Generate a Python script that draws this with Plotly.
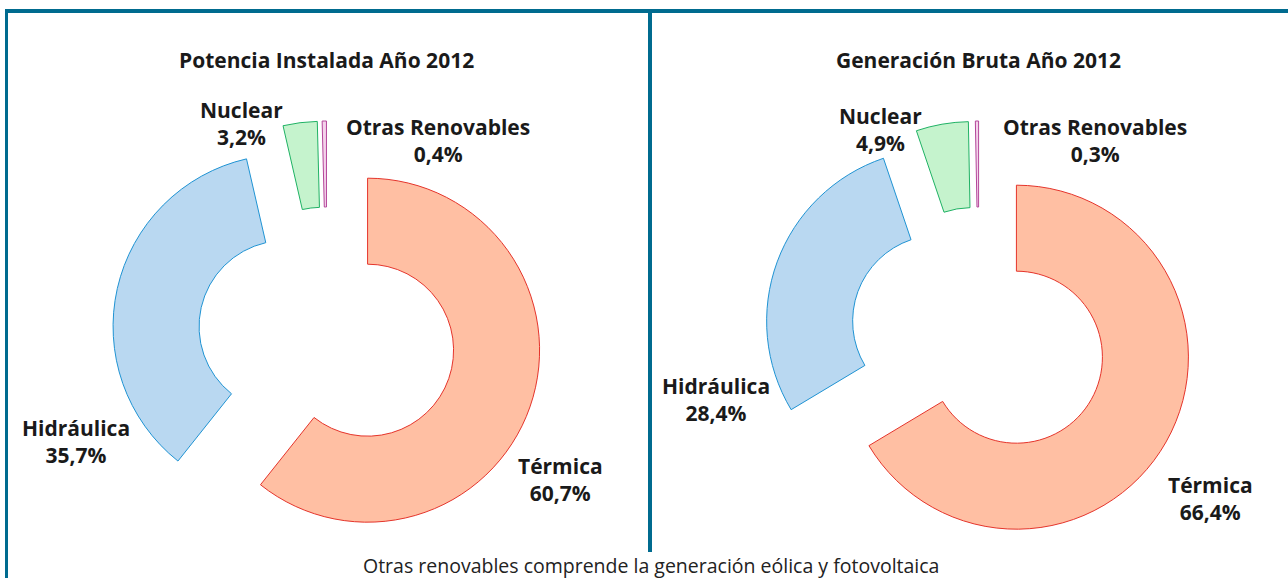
import plotly.graph_objects as go

labels = ["Térmica", "Hidráulica", "Nuclear", "Otras Renovables"]
potencia = [60.7, 35.7, 3.2, 0.4]
generacion = [66.4, 28.4, 4.9, 0.3]
titles = ["Potencia Instalada Año 2012", "Generación Bruta Año 2012"]
pct_text_pot = ["60,7%", "35,7%", "3,2%", "0,4%"]
pct_text_gen = ["66,4%", "28,4%", "4,9%", "0,3%"]
footnote = "Otras renovables comprende la generación eólica y fotovoltaica"

fills = ["#FFBFA3", "#B9D8F1", "#C5F3CD", "#F3D2EA"]
lines = ["#E5342B", "#1F93D3", "#1FB264", "#B4469A"]
W, H = 1288, 578
FONT = "Open Sans"
BORDER = "#006B8F"


def dom(cx, cy, half):
    return dict(x=[(cx - half) / W, (cx + half) / W],
                y=[1 - (cy + half) / H, 1 - (cy - half) / H])


fig = go.Figure()
for vals, (cx, cy) in [(potencia, (327, 336)), (generacion, (979, 336))]:
    fig.add_trace(go.Pie(
        labels=labels, values=vals, sort=False, direction="clockwise",
        rotation=0, hole=0.5, pull=[0.25] * 4, textinfo="none",
        marker=dict(colors=fills, line=dict(color=lines, width=1)),
        domain=dom(cx, cy, 215), showlegend=False,
    ))

ann = []
ann.append(dict(x=326, y=60, text="<b>%s</b>" % titles[0]))
ann.append(dict(x=978, y=60, text="<b>%s</b>" % titles[1]))
pos_left = [(560, 479), (76, 441), (241, 124), (438, 141)]
pos_right = [(1210, 498), (716, 400), (880, 129), (1095, 141)]
for pos, txt in [(pos_left, pct_text_pot), (pos_right, pct_text_gen)]:
    for (x, y), lab, p in zip(pos, labels, txt):
        ann.append(dict(x=x, y=y, text="<b>%s<br>%s</b>" % (lab, p)))
for a in ann:
    a["x"] = a["x"] / W
    a["y"] = 1 - a["y"] / H
    a.update(xref="paper", yref="paper", showarrow=False, xanchor="center",
             yanchor="middle", font=dict(family=FONT, size=21, color="#1A1A1A"))
ann.append(dict(x=651 / W, y=1 - 565 / H, xref="paper", yref="paper",
                showarrow=False, text=footnote, xanchor="center", yanchor="middle",
                font=dict(family=FONT, size=19.5, color="#222222")))

shapes = [
    dict(type="line", x0=5 / W, x1=1, y0=1 - 11 / H, y1=1 - 11 / H),
    dict(type="line", x0=6.5 / W, x1=6.5 / W, y0=1 - 9 / H, y1=0),
    dict(type="line", x0=650 / W, x1=650 / W, y0=1 - 11 / H, y1=1 - 552 / H),
]
for s in shapes:
    s.update(xref="paper", yref="paper", line=dict(color=BORDER, width=4))
shapes[1]["line"]["width"] = 3

fig.update_layout(
    width=W, height=H, autosize=False,
    margin=dict(l=0, r=0, t=0, b=0),
    paper_bgcolor="white", plot_bgcolor="white",
    annotations=ann, shapes=shapes,
    font=dict(family=FONT),
)
fig.write_html("out.html", config={"displayModeBar": False},
               post_script="document.body.style.margin='0';document.body.style.overflow='hidden';")
